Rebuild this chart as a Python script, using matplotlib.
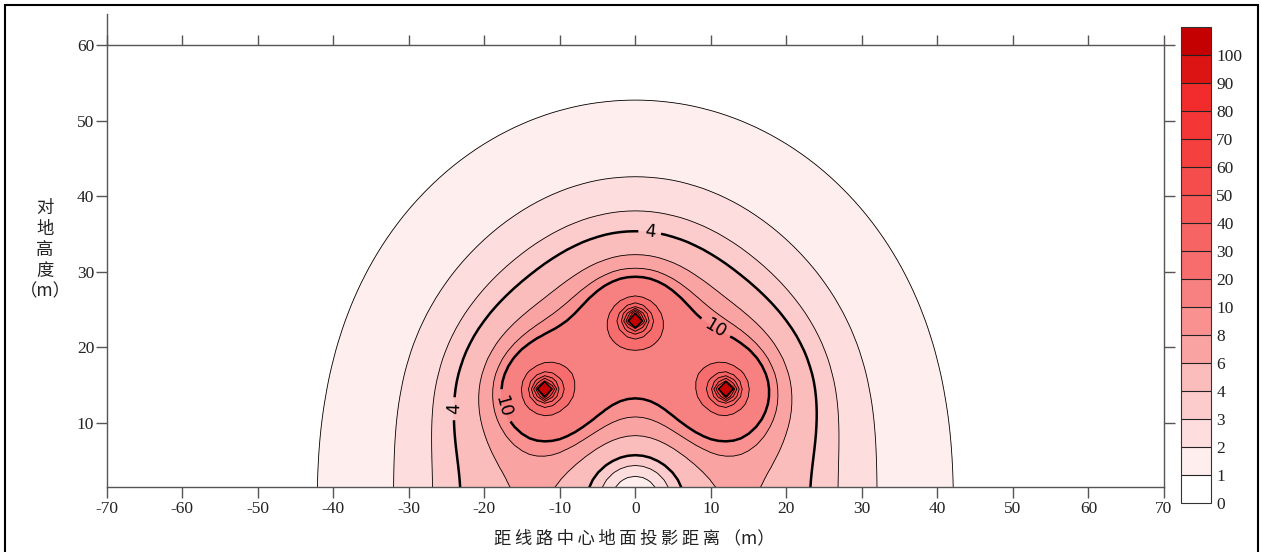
import numpy as np
import matplotlib
matplotlib.use('Agg')
import matplotlib.pyplot as plt
from matplotlib.patches import Rectangle

plt.rcParams['axes.unicode_minus'] = False

# conductor positions (m), phase angles of the 3 phases
cond_x = [-12.0, 0.0, 12.0]
cond_y = [14.4, 23.7, 14.4]
phase_deg = [0, 120, 240]
line_charge = 68.0      # q/(2*pi*eps0) scale, gives kV/m

# contour levels and fill colours (one per band)
levels = [0, 1, 2, 3, 4, 6, 8, 10, 20, 30, 40, 50, 60, 70, 80, 90, 100, 1000]
band_colors = ['#ffffff', '#feeeee', '#fddddd', '#fccccc', '#fbbcbc', '#faa3a3',
               '#f99191', '#f78080', '#f76c6c', '#f76464', '#f65858', '#f54c4c',
               '#f54040', '#f43636', '#f22c2c', '#dc1414', '#c40000']
cbar_labels = ['0', '1', '2', '3', '4', '6', '8', '10', '20', '30', '40', '50',
               '60', '70', '80', '90', '100']
bold_levels = [4, 10]
label_pos = [(1.9, 35.1), (-24.3, 11.9), (-17.9, 12.1), (10.7, 22.7)]

xticks = list(range(-70, 71, 10))
yticks = list(range(10, 61, 10))

# field on a 1 m grid, line charges with ground images
xs = np.arange(-70, 70.01, 1.0)
ys = np.arange(1.5, 64.6, 1.0)
X, Y = np.meshgrid(xs, ys)
Ex = np.zeros(X.shape, dtype=complex)
Ey = np.zeros(X.shape, dtype=complex)
for xc, yc, ph in zip(cond_x, cond_y, phase_deg):
    q = line_charge * np.exp(1j * np.deg2rad(ph))
    dx = X - xc
    dy = Y - yc
    dyi = Y + yc
    r2 = dx**2 + dy**2
    r2i = dx**2 + dyi**2
    Ex += q * (dx / r2 - dx / r2i)
    Ey += q * (dy / r2 - dyi / r2i)
E = np.sqrt(np.abs(Ex)**2 + np.abs(Ey)**2)
E = np.clip(E, 0, 999)

fig = plt.figure(figsize=(12.62, 5.52), dpi=100)
ax = fig.add_axes([0.0845, 0.1172, 0.8378, 0.8574])

cf = ax.contourf(X, Y, E, levels=levels, colors=band_colors)
thin = [l for l in levels[1:-1] if l not in bold_levels]
ax.contour(X, Y, E, levels=thin, colors='k', linewidths=0.6)
cs = ax.contour(X, Y, E, levels=bold_levels, colors='k', linewidths=1.8)
ax.clabel(cs, fmt='%d', manual=label_pos, fontsize=12.5, inline=True,
          inline_spacing=6)

ax.set_xlim(-70, 70)
ax.set_ylim(1.5, 64.1)
ax.set_xticks(xticks)
ax.set_yticks(yticks)
ax.tick_params(axis='both', direction='out', length=8, width=1, color='#555',
               labelsize=12.5, labelcolor='#222', pad=2)
ax.tick_params(axis='y', right=True, labelright=False, pad=1)
for lab in ax.get_xticklabels() + ax.get_yticklabels():
    lab.set_family('Liberation Serif')
ax.spines['top'].set_visible(False)
ax.spines['right'].set_bounds(1.5, 60)
for s in ['left', 'right', 'bottom']:
    ax.spines[s].set_color('#555')
    ax.spines[s].set_linewidth(1)

# top axis line sits at y = 60
top = ax.secondary_xaxis((60 - 1.5) / (64.1 - 1.5))
top.set_zorder(5)
top.set_xticks(xticks)
top.tick_params(direction='out', length=7, width=1, color='#555', labeltop=False)
top.spines['top'].set_color('#555')
top.spines['top'].set_linewidth(1)

# colorbar
cax = fig.add_axes([0.9356, 0.0893, 0.0238, 0.8623])
cb = fig.colorbar(cf, cax=cax, drawedges=True, ticks=levels[:-1])
cb.ax.set_yticklabels(cbar_labels)
cb.ax.tick_params(length=0, pad=4, labelsize=12.5, labelcolor='#222')
for lab in cb.ax.get_yticklabels():
    lab.set_family('Liberation Serif')
cb.outline.set_edgecolor('#333')
cb.outline.set_linewidth(0.8)
cb.dividers.set_color('#222')
cb.dividers.set_linewidth(0.8)

cjk = ['Noto Sans CJK SC', 'DejaVu Sans']
fig.text(0.0357, 0.547, '对\n地\n高\n度\n（m）', ha='center', va='center',
         fontsize=12.5, family=cjk, linespacing=1.2, color='#222')
xlabel = '\u2009'.join('距线路中心地面投影距离') + '\u2009（m）'
fig.text(634 / 1262, 0.025, xlabel, ha='center',
         va='center', fontsize=12.5, family=cjk, color='#222')

# frame round the whole picture
fig.patches.append(Rectangle((5 / 1262, -0.1), 1253 / 1262, 1.091,
                             transform=fig.transFigure, fill=False,
                             edgecolor='black', linewidth=1.5))

fig.savefig('out.png', dpi=100)
